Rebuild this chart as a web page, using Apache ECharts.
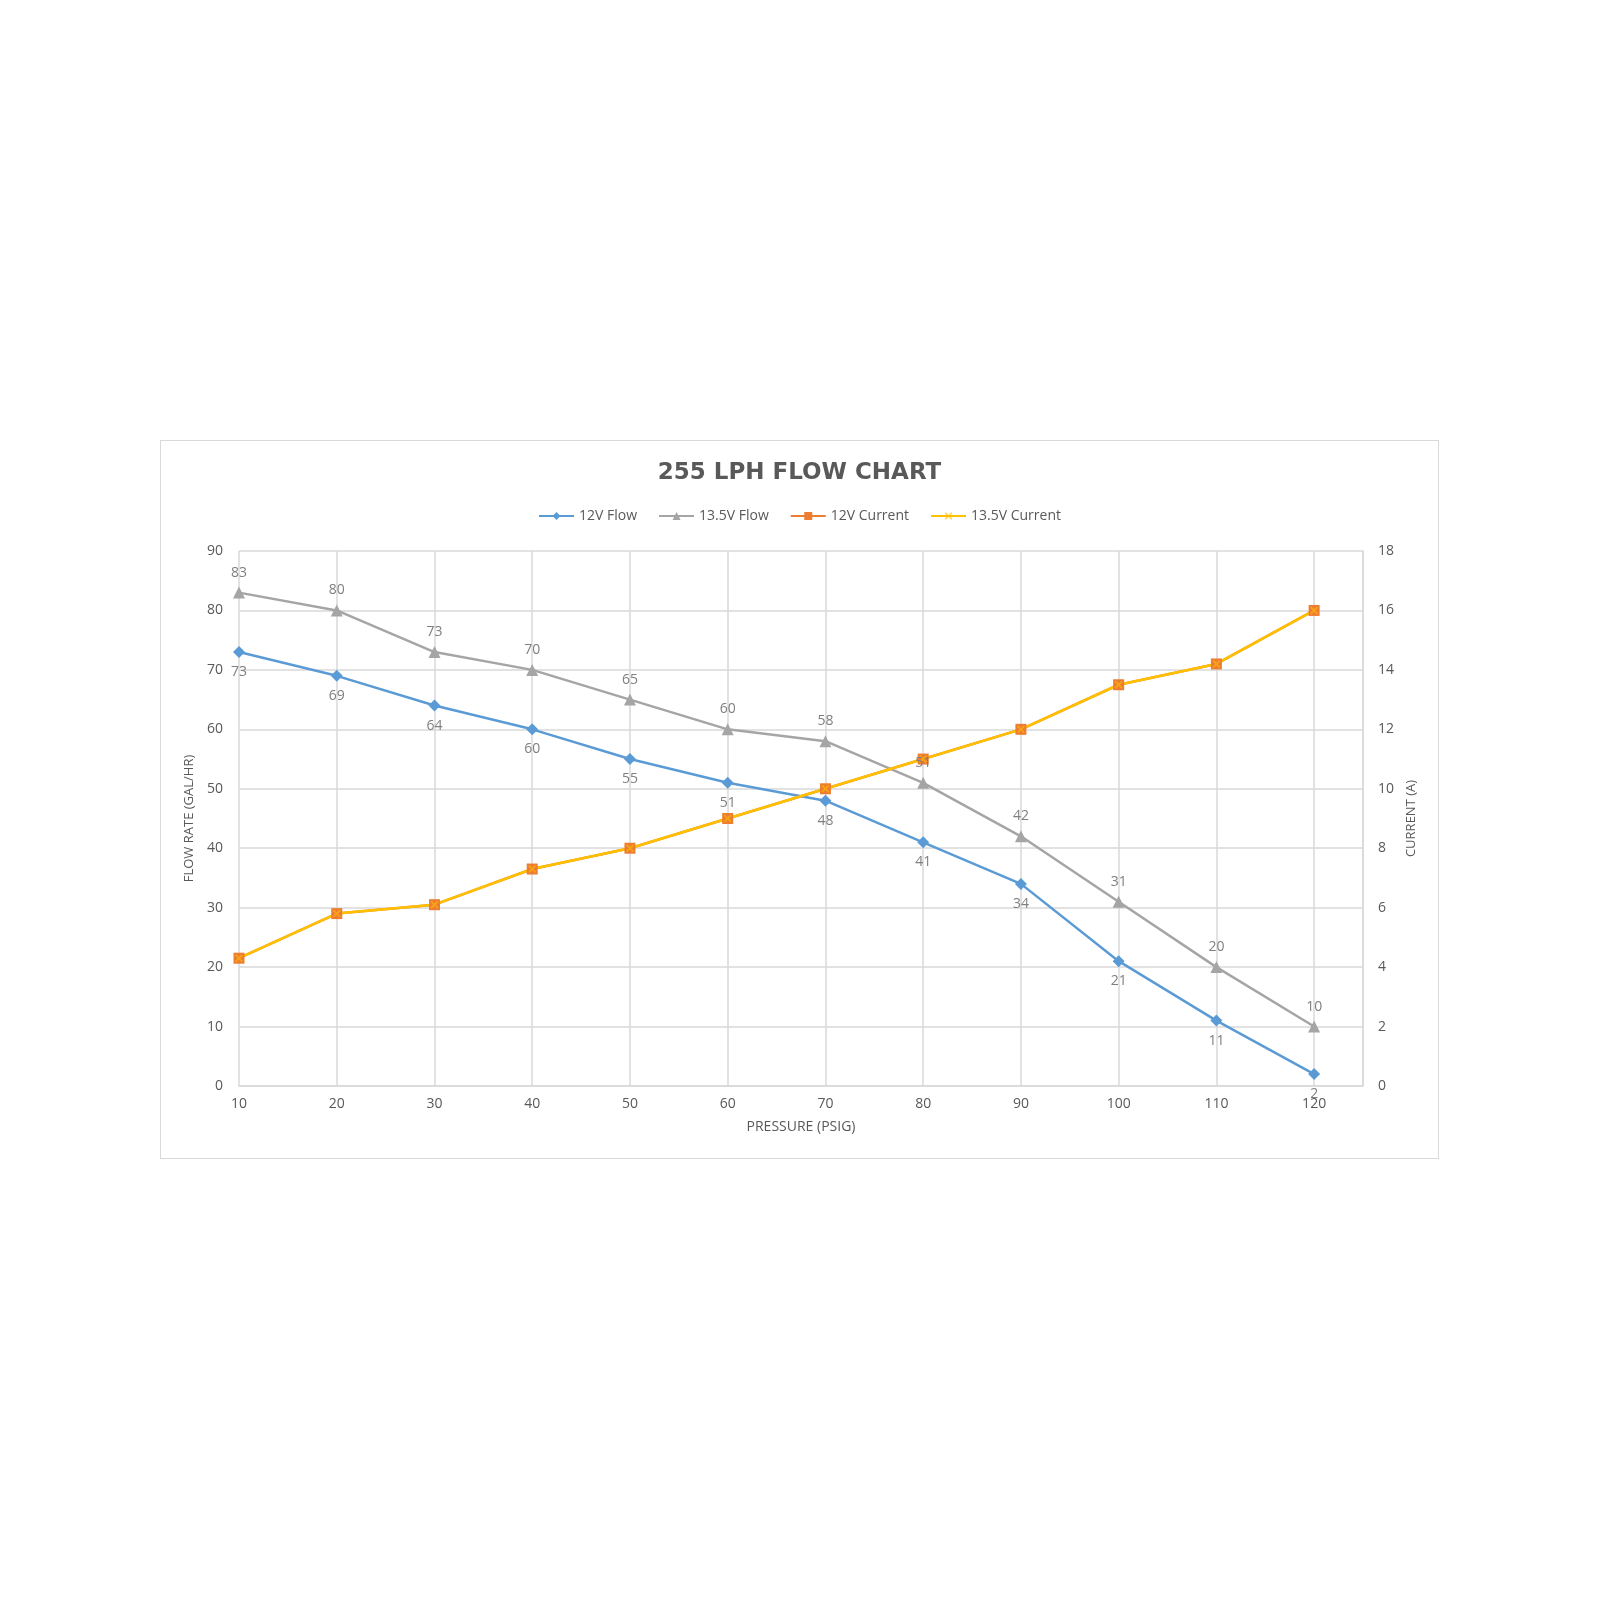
<!DOCTYPE html>
<html>
<head>
<meta charset="utf-8">
<title>255 LPH Flow Chart</title>
<script src="https://cdn.jsdelivr.net/npm/echarts@6/dist/echarts.min.js"></script>
<style>
  html, body { margin: 0; padding: 0; background: #fff; }
  #page { position: relative; width: 1600px; height: 1600px; }
  #main {
    position: absolute; left: 160px; top: 440px;
    width: 1277px; height: 717px;
    border: 1px solid #d9d9d9;
  }
</style>
</head>
<body>
<div id="page"><div id="main"></div></div>
<script>
// 压力 (PSIG)
const pressure = [10, 20, 30, 40, 50, 60, 70, 80, 90, 100, 110, 120];
// 流量 (GAL/HR)
const flow12V = [73, 69, 64, 60, 55, 51, 48, 41, 34, 21, 11, 2];
const flow135V = [83, 80, 73, 70, 65, 60, 58, 51, 42, 31, 20, 10];
// 电流 (A)
const current12V = [4.3, 5.8, 6.1, 7.3, 8.0, 9.0, 10.0, 11.0, 12.0, 13.5, 14.2, 16.0];
const current135V = [4.3, 5.8, 6.1, 7.3, 8.0, 9.0, 10.0, 11.0, 12.0, 13.5, 14.2, 16.0];

const pairs = vals => vals.map((v, i) => [pressure[i], v]);

const grey = '#595959';
const gridColor = '#d9d9d9';
const font = 'Open Sans';
const xMark = 'path://M0,1.5L1.5,0L5,3.5L8.5,0L10,1.5L6.5,5L10,8.5L8.5,10L5,6.5L1.5,10L0,8.5L3.5,5Z';

const config = {
  animation: false,
  textStyle: { fontFamily: font },
  title: {
    text: '255 LPH FLOW CHART',
    left: 'center',
    top: 16,
    textStyle: {
      fontFamily: 'DejaVu Sans',
      fontWeight: 'bold',
      fontSize: 23,
      color: grey,
    },
  },
  legend: {
    top: 63,
    left: 'center',
    itemWidth: 35,
    itemHeight: 10,
    itemGap: 21,
    textStyle: { color: grey, fontSize: 14, fontFamily: font },
    data: ['12V Flow', '13.5V Flow', '12V Current', '13.5V Current'],
  },
  grid: {
    left: 78,
    right: 75,
    top: 110,
    bottom: 72,
    containLabel: false,
  },
  xAxis: {
    type: 'value',
    min: 10,
    max: 125,
    interval: 10,
    name: 'PRESSURE (PSIG)',
    nameLocation: 'middle',
    nameGap: 34,
    nameTextStyle: { color: grey, fontSize: 14 },
    axisLine: { show: true, lineStyle: { color: gridColor, width: 1.5 } },
    axisTick: { show: false },
    axisLabel: {
      color: grey,
      fontSize: 14,
      margin: 11,
      showMaxLabel: false,
    },
    splitLine: { show: true, lineStyle: { color: gridColor, width: 1.5 } },
  },
  yAxis: [
    {
      type: 'value',
      min: 0,
      max: 90,
      interval: 10,
      name: 'FLOW RATE (GAL/HR)',
      nameLocation: 'middle',
      nameGap: 35,
      nameRotate: 90,
      nameTextStyle: { color: grey, fontSize: 13 },
      axisLine: { show: false },
      axisTick: { show: false },
      axisLabel: { color: grey, fontSize: 14, margin: 16 },
      splitLine: { show: true, lineStyle: { color: gridColor, width: 1.5 } },
    },
    {
      type: 'value',
      min: 0,
      max: 18,
      interval: 2,
      name: 'CURRENT (A)',
      nameLocation: 'middle',
      nameGap: 37,
      nameRotate: 90,
      nameTextStyle: { color: grey, fontSize: 13 },
      axisLine: { show: true, lineStyle: { color: gridColor, width: 1.5 } },
      axisTick: { show: false },
      axisLabel: { color: grey, fontSize: 14, margin: 15 },
      splitLine: { show: false },
    },
  ],
  series: [
    {
      name: '12V Flow',
      type: 'line',
      yAxisIndex: 0,
      data: pairs(flow12V),
      symbol: 'diamond',
      symbolSize: 12,
      color: '#5b9bd5',
      lineStyle: { color: '#5b9bd5', width: 2.5 },
      itemStyle: { color: '#5b9bd5' },
      label: {
        show: true,
        position: 'bottom',
        distance: 7,
        color: '#7f7f7f',
        fontSize: 14,
        formatter: p => p.value[1],
      },
    },
    {
      name: '13.5V Flow',
      type: 'line',
      yAxisIndex: 0,
      data: pairs(flow135V),
      symbol: 'triangle',
      symbolSize: 12,
      color: '#a5a5a5',
      lineStyle: { color: '#a5a5a5', width: 2.5 },
      itemStyle: { color: '#a5a5a5' },
      label: {
        show: true,
        position: 'top',
        distance: 7,
        color: '#7f7f7f',
        fontSize: 14,
        formatter: p => p.value[1],
      },
    },
    {
      name: '12V Current',
      type: 'line',
      yAxisIndex: 1,
      data: pairs(current12V),
      symbol: 'rect',
      symbolSize: 11,
      color: '#ed7d31',
      lineStyle: { color: '#ed7d31', width: 2.5 },
      itemStyle: { color: '#ed7d31' },
    },
    {
      name: '13.5V Current',
      type: 'line',
      yAxisIndex: 1,
      data: pairs(current135V),
      symbol: xMark,
      symbolSize: 8,
      color: '#ffc000',
      lineStyle: { color: '#ffc000', width: 2.5 },
      itemStyle: { color: '#ffc000', opacity: 0.6 },
    },
  ],
};

const myChart = echarts.init(document.getElementById('main'));
myChart.setOption(config);
</script>
</body>
</html>
